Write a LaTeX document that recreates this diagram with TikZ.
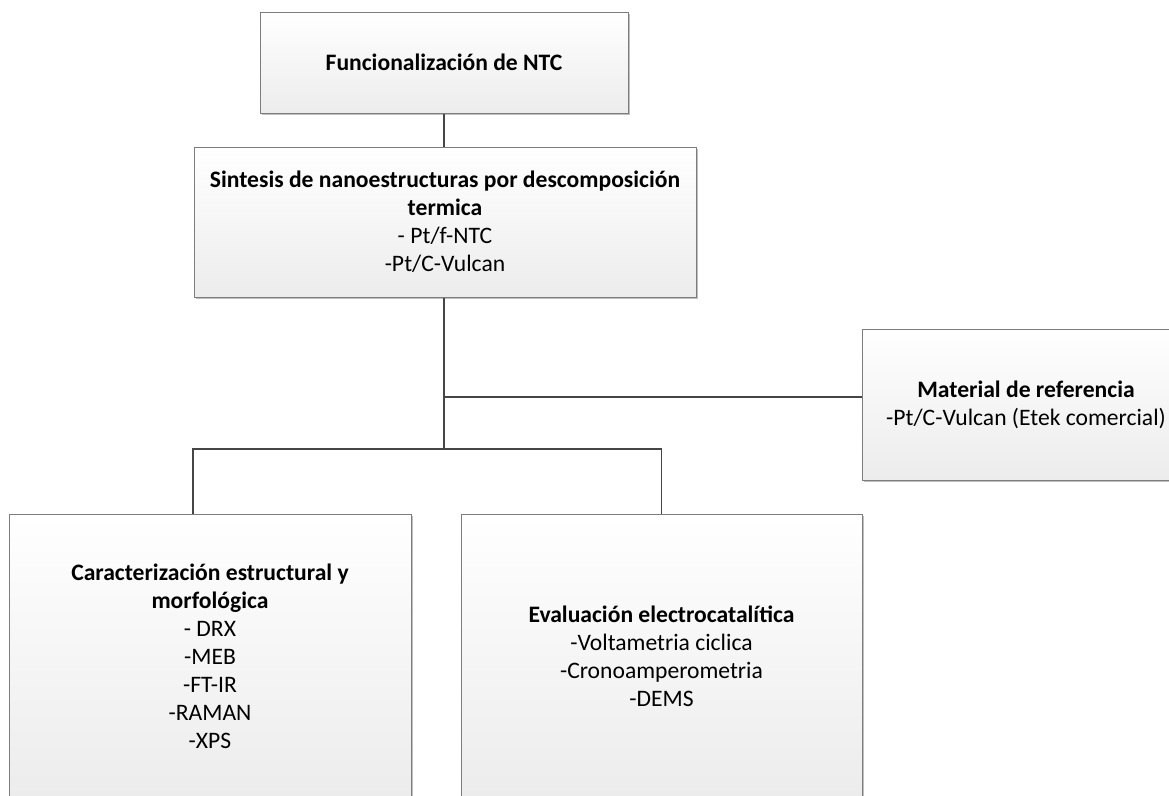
\documentclass[tikz,border=0pt]{standalone}
\usepackage{fontspec}
\setmainfont{Carlito}
\usetikzlibrary{shadows,calc}
\definecolor{boxborder}{RGB}{125,125,125}
\definecolor{boxbottom}{RGB}{236,236,236}
\definecolor{linecol}{RGB}{70,70,70}
\tikzset{
  procbox/.style={rectangle, draw=boxborder, line width=1pt, top color=white, bottom color=boxbottom,
    align=center, inner sep=0pt, font=\fontsize{23.6}{28}\selectfont,
    drop shadow={shadow xshift=2pt, shadow yshift=-2pt, fill=black, opacity=0.25}},
  conn/.style={draw=linecol, line width=1.3pt}
}
\begin{document}
\begin{tikzpicture}[x=1pt,y=-1pt]
\useasboundingbox (0,0) rectangle (1169,795);
\clip (0,0) rectangle (1169,795);
\node[procbox, minimum width=368pt, minimum height=101pt] (b1) at (444,62.5) {\textbf{Funcionalización de NTC}};
\node[procbox, minimum width=502pt, minimum height=150pt] (b2) at (445,222) {\textbf{Sintesis de nanoestructuras por descomposición}\\\textbf{termica}\\- Pt/f-NTC\\-Pt/C-Vulcan};
\node[procbox, minimum width=328pt, minimum height=151pt] (b3) at (1026,404.5) {\textbf{Material de referencia}\\-Pt/C-Vulcan (Etek comercial)};
\node[procbox, minimum width=402pt, minimum height=284pt] (b4) at (210,656) {\textbf{Caracterización estructural y}\\\textbf{morfológica}\\- DRX\\-MEB\\-FT-IR\\-RAMAN\\-XPS};
\node[procbox, minimum width=401pt, minimum height=284pt] (b5) at (661.5,656) {\textbf{Evaluación electrocatalítica}\\-Voltametria ciclica\\-Cronoamperometria\\-DEMS};
\coordinate (j) at (444,449);
\coordinate (jm) at (444,397);
\draw[conn] (b1.south) -- (b1.south |- b2.north);
\draw[conn] (b1.south |- b2.south) -- (j);
\draw[conn] (jm) -- (jm -| b3.west);
\draw[conn] (j) -| ([xshift=-17pt]b4.north);
\draw[conn] (j) -| (b5.north);
\end{tikzpicture}
\end{document}
